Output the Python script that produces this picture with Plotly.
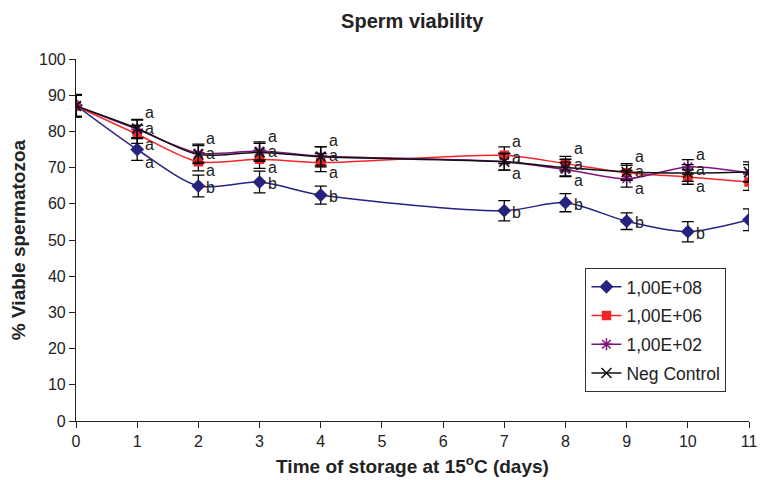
import plotly.graph_objects as go

days = [0, 1, 2, 3, 4, 7, 8, 9, 10, 11]
v_e08 = [87.2, 75.0, 64.9, 66.0, 62.4, 58.1, 60.3, 55.2, 52.3, 55.6]
v_e06 = [87.0, 79.2, 71.6, 72.3, 71.4, 73.4, 71.1, 68.6, 67.4, 66.0]
v_e02 = [87.0, 80.6, 74.0, 74.6, 73.2, 71.6, 69.5, 66.9, 70.2, 68.5]
v_neg = [87.0, 80.8, 73.6, 74.2, 73.0, 71.6, 70.0, 68.8, 68.5, 68.8]
e_e08 = [3.0, 3.0, 3.0, 3.0, 2.5, 2.8, 2.5, 2.3, 2.8, 3.0]
e_e06 = [3.0, 2.5, 2.5, 2.5, 2.5, 2.3, 2.0, 2.0, 2.0, 2.3]
e_e02 = [3.0, 2.5, 2.5, 2.5, 2.5, 2.3, 2.0, 2.3, 2.0, 2.3]
e_neg = [3.0, 2.5, 2.5, 2.5, 2.8, 2.3, 2.3, 2.3, 2.3, 2.8]
names = ["1,00E+08", "1,00E+06", "1,00E+02", "Neg Control"]
let_e08 = ["", "a", "b", "b", "b", "b", "b", "b", "b", "b"]
let_grp = ["", "a", "a", "a", "a", "a", "a", "a", "a", "a"]

colors = ["#26237F", "#F5252A", "#7F127F", "#111111"]
symbols = ["diamond", "square", "asterisk-open", "x-thin-open"]
msizes = [9, 8, 10, 10]
values = [v_e08, v_e06, v_e02, v_neg]
errors = [e_e08, e_e06, e_e02, e_neg]

fig = go.Figure()
for nm, vals, errs, col, sym, ms in zip(names, values, errors, colors, symbols, msizes):
    fig.add_trace(go.Scatter(
        x=days, y=vals, name=nm, legendgroup=nm, mode="lines+markers",
        line=dict(color=col, width=1.5, shape="spline", smoothing=0.8),
        marker=dict(symbol=sym, size=ms, color=col, line=dict(color=col, width=1.5)),
        error_y=dict(type="data", array=errs, visible=True, color="black",
                     thickness=1.3, width=6),
    ))

lab_font = dict(size=16, color="#222222", family="Arial")
ann = []
for i, d in enumerate(days):
    if let_grp[i]:
        m = (v_e06[i] + v_e02[i] + v_neg[i]) / 3.0
        for off in (5.0, 0.7, -3.8):
            ann.append(dict(x=d + 0.1, y=m + off, text=let_grp[i], showarrow=False,
                            xanchor="left", yanchor="middle", font=lab_font))
    if let_e08[i]:
        dy = -3.5 if let_e08[i] == "a" else -0.5
        ann.append(dict(x=d + 0.1, y=v_e08[i] + dy, text=let_e08[i], showarrow=False,
                        xanchor="left", yanchor="middle", font=lab_font))

fig.update_layout(
    width=762, height=480,
    margin=dict(l=76, r=13, t=59, b=59, autoexpand=False),
    paper_bgcolor="white", plot_bgcolor="white",
    font=dict(family="Arial", size=16, color="#222222"),
    title=dict(text="<b>Sperm viability</b>", x=0.541, xanchor="center",
               y=0.956, yanchor="middle",
               font=dict(size=20, family="Arial")),
    annotations=ann,
    legend=dict(x=0.757, y=0.423, xanchor="left", yanchor="top",
                bordercolor="#333333", borderwidth=1, bgcolor="white",
                font=dict(size=17.5, family="Arial"),
                tracegroupgap=3, itemwidth=30),
    showlegend=True,
)
fig.update_xaxes(range=[0, 11], tickmode="linear", tick0=0, dtick=1,
                 showline=True, linecolor="#222222", linewidth=1.2, automargin=False,
                 ticks="outside", ticklen=6, tickcolor="#222222", showgrid=False,
                 zeroline=False,
                 title=dict(text="<b>Time of storage at 15<sup>o</sup>C (days)</b>",
                            font=dict(size=19, family="Arial"), standoff=10))
fig.update_yaxes(range=[0, 100], tickmode="linear", tick0=0, dtick=10,
                 showline=True, linecolor="#222222", linewidth=1.2, automargin=False,
                 ticks="outside", ticklen=6, tickcolor="#222222", showgrid=False,
                 zeroline=False,
                 title=dict(text="<b>% Viable spermatozoa</b>",
                            font=dict(size=19, family="Arial"), standoff=8))

fig.write_html("out.html", config={"displayModeBar": False},
               post_script="document.body.style.margin='0';document.body.style.overflow='hidden';")
